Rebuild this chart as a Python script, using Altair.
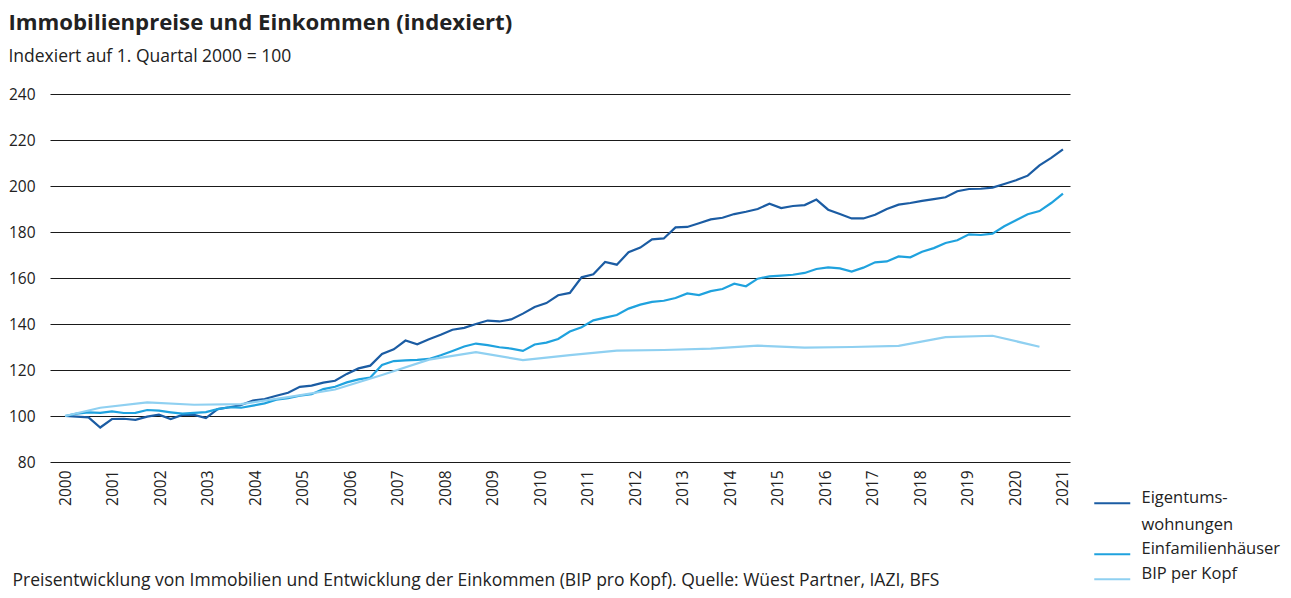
import altair as alt
import pandas as pd

# quarter index: 0 = Q1 2000
quarters = list(range(86))
eigentum = [100, 99.7, 99.4, 95.0, 98.7, 98.8, 98.3, 99.7, 100.6, 98.7,
            100.5, 100.5, 99.1, 103.0, 103.8, 104.8, 106.7, 107.4, 108.8, 110.1,
            112.7, 113.2, 114.5, 115.3, 118.3, 120.7, 121.9, 127.0, 129.0, 132.8,
            131.2, 133.4, 135.3, 137.5, 138.3, 140.0, 141.5, 141.1, 142.0, 144.5,
            147.4, 149.1, 152.5, 153.5, 160.3, 161.6, 167.0, 165.8, 171.2, 173.2,
            176.8, 177.2, 182.0, 182.2, 183.8, 185.5, 186.2, 187.8, 188.8, 190.0,
            192.3, 190.4, 191.3, 191.7, 194.1, 189.7, 187.8, 185.9, 185.9, 187.5,
            190.0, 191.9, 192.6, 193.5, 194.3, 195.1, 197.7, 198.7, 198.8, 199.3,
            200.9, 202.5, 204.5, 209.0, 212.2, 215.9]
efh = [100, 101.0, 101.6, 101.4, 102.0, 101.3, 101.4, 102.6, 102.3, 101.6,
       101.0, 101.4, 101.7, 103.0, 103.8, 103.6, 104.5, 105.5, 107.1, 107.8,
       108.8, 109.5, 111.7, 112.7, 114.6, 115.9, 116.7, 122.2, 123.9, 124.2,
       124.4, 124.8, 126.4, 128.3, 130.2, 131.5, 130.8, 129.9, 129.3, 128.3,
       131.1, 131.9, 133.5, 136.7, 138.6, 141.6, 142.8, 143.9, 146.7, 148.4,
       149.6, 150.1, 151.3, 153.3, 152.6, 154.3, 155.2, 157.5, 156.4, 159.7,
       160.7, 161.0, 161.4, 162.2, 163.9, 164.6, 164.2, 162.8, 164.5, 166.8,
       167.2, 169.4, 169.0, 171.4, 173.0, 175.2, 176.4, 179.0, 178.7, 179.3,
       182.5, 185.1, 187.7, 189.1, 192.6, 196.7]
bip_q = [0, 3, 7, 11, 15, 19, 23, 27, 31, 35, 39, 43, 47, 51, 55, 59, 63, 67, 71, 75, 79, 83]
bip = [100, 103.6, 105.9, 104.9, 105.2, 108.2, 111.5, 117.8, 124.5, 127.8, 124.3,
       126.5, 128.4, 128.7, 129.3, 130.6, 129.7, 130.0, 130.5, 134.3, 134.9, 130.1]

years = list(range(2000, 2022))
series_names = ["Eigentumswohnungen", "Einfamilienhäuser", "BIP per Kopf"]
colors = ["#1b5ca3", "#1fa2de", "#8fd0f1"]

rows = []
for q, v in zip(quarters, eigentum):
    rows.append({"q": q, "wert": v, "serie": series_names[0]})
for q, v in zip(quarters, efh):
    rows.append({"q": q, "wert": v, "serie": series_names[1]})
for q, v in zip(bip_q, bip):
    rows.append({"q": q, "wert": v, "serie": series_names[2]})
df = pd.DataFrame(rows)

n_last = quarters[-1]
tick_vals = [i * n_last / (len(years) - 1) for i in range(len(years))]
label_expr = "'' + (2000 + round(datum.value * %d / %d))" % (len(years) - 1, n_last)

FONT = "Open Sans"

chart = alt.Chart(df).mark_line(strokeWidth=2.2).encode(
    x=alt.X("q:Q",
            scale=alt.Scale(domain=[-1.28, 85.6], nice=False, zero=False),
            axis=alt.Axis(values=tick_vals, labelExpr=label_expr, labelAngle=-90,
                          labelAlign="right", labelBaseline="middle",
                          labelPadding=8, ticks=False, domain=False, grid=False,
                          labelFontSize=15.5, labelColor="#222", labelFont=FONT,
                          title="Preisentwicklung von Immobilien und Entwicklung der Einkommen (BIP pro Kopf). Quelle: Wüest Partner, IAZI, BFS",
                          titleAnchor="start", titleAlign="left", titleX=-38, titleY=123,
                          titleBaseline="alphabetic", titleFontWeight="normal",
                          titleFontSize=17.5, titleFont=FONT, titleColor="#222")),
    y=alt.Y("wert:Q",
            scale=alt.Scale(domain=[80, 240], nice=False, zero=False),
            axis=alt.Axis(values=list(range(80, 241, 20)), title=None, ticks=False,
                          domain=False, grid=True, gridColor="#1a1a1a", gridWidth=1.2,
                          gridOpacity=1, labelPadding=15, labelFontSize=15.5,
                          labelColor="#222", labelFont=FONT)),
    color=alt.Color("serie:N",
                    scale=alt.Scale(domain=series_names, range=colors),
                    legend=alt.Legend(title=None, orient="none", legendX=1054, legendY=401,
                                      symbolType="M-3,0H3", symbolSize=144,
                                      symbolStrokeWidth=2.2, labelFontSize=16.5,
                                      labelFont=FONT, labelColor="#222",
                                      labelBaseline="alphabetic", labelLimit=200,
                                      labelOffset=21, rowPadding=7,
                                      labelExpr="datum.label == 'Eigentumswohnungen' ? ['Eigentums-', 'wohnungen'] : datum.label")),
).properties(
    width=1020,
    height=368,
    autosize=alt.AutoSizeParams(type="none"),
    padding={"left": 42, "top": 86, "right": 213, "bottom": 128},
    title=alt.TitleParams(
        text="Immobilienpreise und Einkommen (indexiert)",
        subtitle="Indexiert auf 1. Quartal 2000 = 100",
        anchor="start", offset=22,
        font=FONT, fontSize=22.2, fontWeight="bold", color="#222",
        subtitleFont=FONT, subtitleFontSize=17.5, subtitleColor="#222",
        subtitlePadding=13,
    ),
).configure(
    style={"guide-label": {"lineHeight": 27}},
    view={"strokeWidth": 0},
)

chart.save("out.html", embed_options={"renderer": "svg", "actions": False})
